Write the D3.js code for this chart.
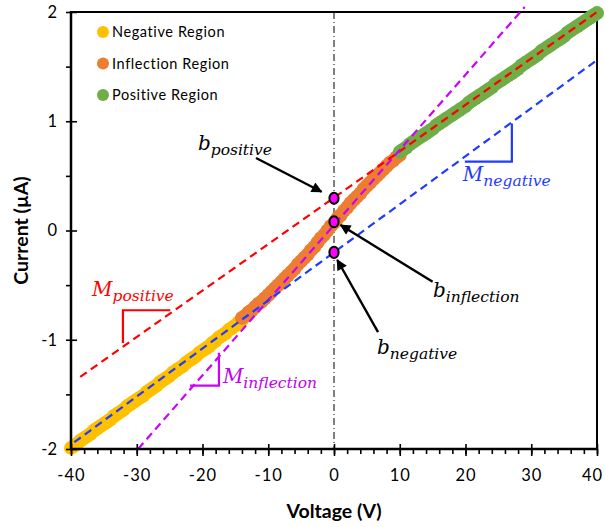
<!DOCTYPE html>
<html>
<head>
<meta charset="utf-8">
<script src="https://cdn.jsdelivr.net/npm/d3@7/dist/d3.min.js"></script>
<style>
  body { margin: 0; background: #fff; }
  svg { display: block; }
</style>
</head>
<body>
<svg id="chart" width="605" height="527"></svg>
<script>
// ---- measured I-V sweep, split into three regions ----
const negativeVoltage = [-40,-39.5,-39,-38.5,-38,-37.5,-37,-36.5,-36,-35.5,-35,-34.5,-34,-33.5,-33,-32.5,-32,-31.5,-31,-30.5,-30,-29.5,-29,-28.5,-28,-27.5,-27,-26.5,-26,-25.5,-25,-24.5,-24,-23.5,-23,-22.5,-22,-21.5,-21,-20.5,-20,-19.5,-19,-18.5,-18,-17.5,-17,-16.5,-16,-15.5,-15,-14.5,-14];
const negativeCurrent = [-1.99,-1.97,-1.95,-1.92,-1.90,-1.88,-1.86,-1.83,-1.81,-1.79,-1.77,-1.75,-1.73,-1.70,-1.68,-1.66,-1.64,-1.61,-1.59,-1.57,-1.55,-1.53,-1.51,-1.48,-1.46,-1.44,-1.42,-1.39,-1.37,-1.35,-1.33,-1.30,-1.28,-1.26,-1.24,-1.21,-1.19,-1.17,-1.15,-1.12,-1.10,-1.08,-1.06,-1.03,-1.01,-0.98,-0.96,-0.94,-0.91,-0.89,-0.87,-0.84,-0.82];

const inflectionVoltage = [-14,-13.5,-13,-12.5,-12,-11.5,-11,-10.5,-10,-9.5,-9,-8.5,-8,-7.5,-7,-6.5,-6,-5.5,-5,-4.5,-4,-3.5,-3,-2.5,-2,-1.5,-1,-0.5,0,0.5,1,1.5,2,2.5,3,3.5,4,4.5,5,5.5,6,6.5,7,7.5,8,8.5,9,9.5,10];
const inflectionCurrent = [-0.80,-0.78,-0.75,-0.73,-0.70,-0.67,-0.65,-0.62,-0.59,-0.56,-0.53,-0.50,-0.47,-0.44,-0.41,-0.38,-0.35,-0.31,-0.28,-0.25,-0.22,-0.18,-0.15,-0.11,-0.07,-0.04,0.00,0.04,0.07,0.11,0.14,0.18,0.21,0.25,0.28,0.31,0.34,0.38,0.41,0.44,0.47,0.50,0.53,0.56,0.59,0.62,0.64,0.67,0.69];

const positiveVoltage = [10,10.5,11,11.5,12,12.5,13,13.5,14,14.5,15,15.5,16,16.5,17,17.5,18,18.5,19,19.5,20,20.5,21,21.5,22,22.5,23,23.5,24,24.5,25,25.5,26,26.5,27,27.5,28,28.5,29,29.5,30,30.5,31,31.5,32,32.5,33,33.5,34,34.5,35,35.5,36,36.5,37,37.5,38,38.5,39,39.5,40];
const positiveCurrent = [0.72,0.74,0.76,0.79,0.81,0.83,0.85,0.87,0.89,0.91,0.93,0.96,0.98,1.00,1.02,1.04,1.06,1.08,1.10,1.12,1.14,1.17,1.19,1.21,1.23,1.25,1.27,1.29,1.31,1.34,1.36,1.38,1.40,1.42,1.44,1.46,1.48,1.51,1.53,1.55,1.57,1.59,1.61,1.64,1.66,1.68,1.70,1.72,1.74,1.76,1.78,1.81,1.83,1.85,1.87,1.89,1.91,1.93,1.95,1.97,1.99];

const regionNames = ["Negative Region", "Inflection Region", "Positive Region"];

// linear fits: slope (µA/V), intercept (µA), drawn voltage span
const fitNames      = ["positive", "inflection", "negative"];
const fitSlopes     = [0.0425, 0.0688, 0.0440];
const fitIntercepts = [0.30, 0.05, -0.20];
const fitStart      = [-38.6, -29.8, -39.5];
const fitEnd        = [40, 29.0, 40];
// intercept values marked on the V = 0 line
const interceptMarks = [0.295, 0.08, -0.20];

const xTickValues = [-40,-30,-20,-10,0,10,20,30,40];
const yTickValues = [-2,-1,0,1,2];

// ---- styling ----
const regionColors = ["#FFC000", "#ED7D31", "#70AD47"];
const fitColors = { positive: "#FF0000", inflection: "#CC00FF", negative: "#1F3BFF" };
const labelColors = { positive: "#FF0000", inflection: "#C000F0", negative: "#1F3BFF" };

const W = 605, H = 527;
const margin = { left: 71, right: 8, top: 12, bottom: 78 };
const svg = d3.select("#chart");

const x = d3.scaleLinear().domain([-40, 40]).range([margin.left, W - margin.right]);
const y = d3.scaleLinear().domain([-2, 2]).range([H - margin.bottom, margin.top]);

const tickFont = "Lato, 'Open Sans', sans-serif";
const mathFont = "'DejaVu Serif', 'Liberation Serif', serif";
const plainNumber = d => String(d);

// plot frame (top and right)
svg.append("path")
  .attr("d", `M${x(-40)},${y(2)}H${x(40)}V${y(-2)}`)
  .attr("fill", "none").attr("stroke", "#000").attr("stroke-width", 2);

// vertical dash-dot line at V = 0
svg.append("line")
  .attr("x1", x(0)).attr("x2", x(0)).attr("y1", y(2)).attr("y2", y(-2))
  .attr("stroke", "#000").attr("stroke-width", 1)
  .attr("stroke-dasharray", "7,3,1,3");

// data points
const regions = [
  { v: negativeVoltage, i: negativeCurrent },
  { v: inflectionVoltage, i: inflectionCurrent },
  { v: positiveVoltage, i: positiveCurrent }
];
regions.forEach((r, k) => {
  svg.append("g").selectAll("circle")
    .data(d3.zip(r.v, r.i))
    .join("circle")
    .attr("cx", d => x(d[0]))
    .attr("cy", d => y(d[1]))
    .attr("r", 7)
    .attr("fill", regionColors[k]);
});

// fitted lines
fitNames.forEach((name, k) => {
  const pts = [fitStart[k], fitEnd[k]].map(v => [v, fitSlopes[k] * v + fitIntercepts[k]]);
  svg.append("path")
    .attr("d", d3.line().x(d => x(d[0])).y(d => y(d[1]))(pts))
    .attr("fill", "none")
    .attr("stroke", fitColors[name])
    .attr("stroke-width", 2.2)
    .attr("stroke-dasharray", "8,5");
});

// slope corner marks next to each fit
const slopeCorners = {
  positive:   [[-32.1, -1.03], [-32.1, -0.73], [-24.9, -0.73]],
  inflection: [[-21.9, -1.42], [-17.5, -1.42], [-17.5, -1.12]],
  negative:   [[19.9, 0.63], [27.05, 0.63], [27.05, 0.98]]
};
Object.entries(slopeCorners).forEach(([name, pts]) => {
  svg.append("path")
    .attr("d", d3.line().x(d => x(d[0])).y(d => y(d[1]))(pts))
    .attr("fill", "none")
    .attr("stroke", fitColors[name])
    .attr("stroke-width", 2.2);
});

// axes
const xAxis = svg.append("g").attr("transform", `translate(0,${y(-2)})`);
xAxis.append("g").call(d3.axisBottom(x).tickValues(d3.range(-40, 41, 2)).tickSize(5).tickFormat(""))
  .call(g => g.select(".domain").remove());
xAxis.append("g").call(d3.axisBottom(x).tickValues(xTickValues).tickSize(7).tickPadding(13).tickFormat(plainNumber))
  .call(g => g.select(".domain").remove())
  .call(g => g.selectAll(".tick line").attr("y1", -5))
  .call(g => g.selectAll("text").attr("font-family", tickFont).attr("font-size", 16.5).attr("fill", "#000").attr("letter-spacing", 1))
  // keep the last label inside the page edge
  .call(g => g.selectAll("text").filter(d => d === 40).attr("dx", -5));
xAxis.selectAll(".tick line").attr("stroke", "#000").attr("stroke-width", 1.6);
xAxis.append("line").attr("x1", x(-40) - 1).attr("x2", x(40) + 1)
  .attr("stroke", "#000").attr("stroke-width", 2.5);

const yAxis = svg.append("g").attr("transform", `translate(${x(-40)},0)`);
yAxis.append("g").call(d3.axisLeft(y).tickValues(d3.range(-2, 2.01, 0.5)).tickSize(5).tickFormat(""))
  .call(g => g.select(".domain").remove());
yAxis.append("g").call(d3.axisLeft(y).tickValues(yTickValues).tickSize(6).tickPadding(8).tickFormat(plainNumber))
  .call(g => g.select(".domain").remove())
  .call(g => g.selectAll(".tick line").attr("x2", 6))
  .call(g => g.selectAll("text").attr("font-family", tickFont).attr("font-size", 16.5).attr("fill", "#000"));
yAxis.selectAll(".tick line").attr("stroke", "#000").attr("stroke-width", 1.6);
yAxis.append("line").attr("y1", y(2) - 1).attr("y2", y(-2) + 1)
  .attr("stroke", "#000").attr("stroke-width", 2.5);

// axis titles
svg.append("text")
  .attr("x", x(0)).attr("y", 518)
  .attr("text-anchor", "middle")
  .attr("font-family", tickFont).attr("font-weight", "bold").attr("font-size", 19.5)
  .text("Voltage (V)");
svg.append("text")
  .attr("transform", `translate(28,${y(0)}) rotate(-90)`)
  .attr("text-anchor", "middle")
  .attr("font-family", tickFont).attr("font-weight", "bold").attr("font-size", 19.5)
  .text("Current (µA)");

// arrows pointing at intercepts
const defs = svg.append("defs");
defs.append("marker")
  .attr("id", "arrowHead")
  .attr("viewBox", "0 0 10 10").attr("refX", 9).attr("refY", 5)
  .attr("markerWidth", 5).attr("markerHeight", 4.5)
  .attr("markerUnits", "strokeWidth")
  .attr("orient", "auto")
  .append("path").attr("d", "M0,0L10,5L0,10Z").attr("fill", "#000");

const arrows = [
  [[-11.86, 0.664], [-1.9, 0.355]],
  [[15.0, -0.47], [1.0, 0.05]],
  [[6.7, -0.93], [0.5, -0.27]]
];
arrows.forEach(a => {
  svg.append("line")
    .attr("x1", x(a[0][0])).attr("y1", y(a[0][1]))
    .attr("x2", x(a[1][0])).attr("y2", y(a[1][1]))
    .attr("stroke", "#000").attr("stroke-width", 2.4)
    .attr("marker-end", "url(#arrowHead)");
});

// intercept markers
svg.append("g").selectAll("ellipse")
  .data(interceptMarks)
  .join("ellipse")
  .attr("cx", x(0)).attr("cy", d => y(d))
  .attr("rx", 4.6).attr("ry", 5.6)
  .attr("fill", "#FF00FF").attr("stroke", "#000").attr("stroke-width", 2);

// math-style labels: main letter with italic subscript
function mathLabel(main, sub, v, i, color) {
  const t = svg.append("text")
    .attr("x", x(v)).attr("y", y(i))
    .attr("font-family", mathFont).attr("font-style", "italic")
    .attr("fill", color);
  t.append("tspan").attr("font-size", 20).text(main);
  t.append("tspan").attr("font-size", 15.5).attr("dy", 5).text(sub);
}
mathLabel("b", "positive", -20.7, 0.74, "#000");
mathLabel("b", "inflection", 15.06, -0.606, "#000");
mathLabel("b", "negative", 6.54, -1.13, "#000");
mathLabel("M", "positive", -36.8, -0.60, labelColors.positive);
mathLabel("M", "inflection", -16.9, -1.40, labelColors.inflection);
mathLabel("M", "negative", 19.6, 0.45, labelColors.negative);

// legend
const legend = svg.append("g");
regionNames.forEach((name, k) => {
  const g = legend.append("g").attr("transform", `translate(103,${32 + k * 31.5})`);
  g.append("circle").attr("r", 6).attr("fill", regionColors[k]);
  g.append("text").attr("x", 9).attr("y", 5)
    .attr("font-family", tickFont).attr("font-size", 14.5)
    .attr("letter-spacing", 0.6)
    .text(name);
});
</script>
</body>
</html>
